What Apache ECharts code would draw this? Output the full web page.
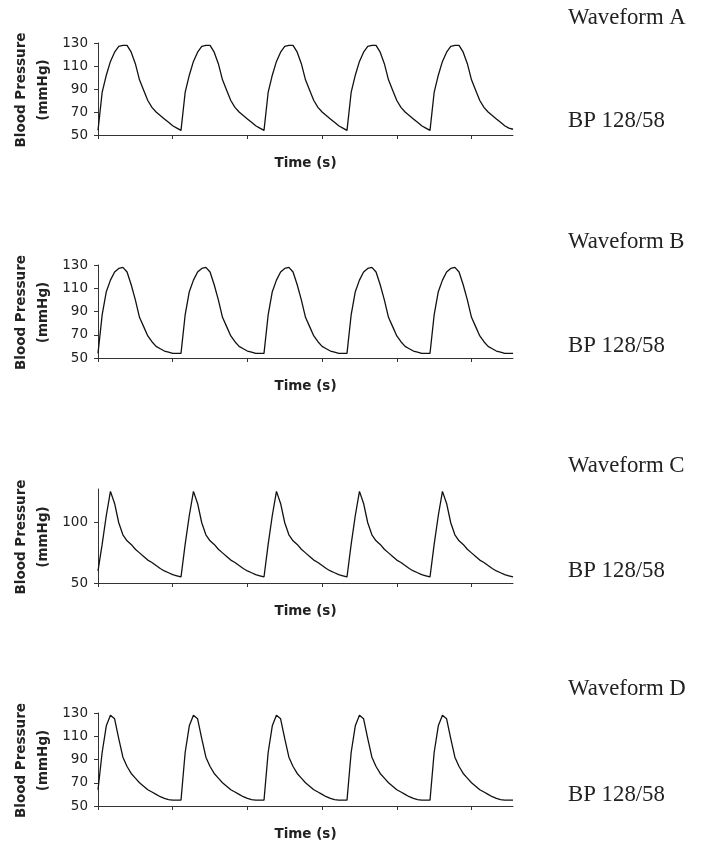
<!DOCTYPE html>
<html><head><meta charset="utf-8">
<script src="https://cdn.jsdelivr.net/npm/echarts@6/dist/echarts.min.js"></script>
<style>html,body{margin:0;padding:0;background:#fff}#c{width:701px;height:842px}</style>
</head><body><div id="c"></div>
<script>
const waveNames = ['Waveform A', 'Waveform B', 'Waveform C', 'Waveform D'];
const bpLabels = ['BP 128/58', 'BP 128/58', 'BP 128/58', 'BP 128/58'];
const xTitle = 'Time (s)';
const yTitle1 = 'Blood Pressure';
const yTitle2 = '(mmHg)';
const xTicks = [0, 18, 36, 54, 72, 90];
const yTicksABD = [50, 70, 90, 110, 130];
const yTicksC = [50, 100];

const waveA = [
  54,87,102,114,122,127,128,128,122,112,98,89,80,74,70,67,64,61,58,56,
  54,87,102,114,122,127,128,128,122,112,98,89,80,74,70,67,64,61,58,56,
  54,87,102,114,122,127,128,128,122,112,98,89,80,74,70,67,64,61,58,56,
  54,87,102,114,122,127,128,128,122,112,98,89,80,74,70,67,64,61,58,56,
  54,87,102,114,122,127,128,128,122,112,98,89,80,74,70,67,64,61,58,56,
  55
];
const waveB = [
  54,87,107,117,124,127,128,124,113,100,85,77,69,64,60,58,56,55,54,54,
  54,87,107,117,124,127,128,124,113,100,85,77,69,64,60,58,56,55,54,54,
  54,87,107,117,124,127,128,124,113,100,85,77,69,64,60,58,56,55,54,54,
  54,87,107,117,124,127,128,124,113,100,85,77,69,64,60,58,56,55,54,54,
  54,87,107,117,124,127,128,124,113,100,85,77,69,64,60,58,56,55,54,54,
  54
];
const waveC = [
  60,82,106,126,116,100,90,85,82,78,75,72,69,67,64.5,62,60,58.5,57,56,
  55,82,106,126,116,100,90,85,82,78,75,72,69,67,64.5,62,60,58.5,57,56,
  55,82,106,126,116,100,90,85,82,78,75,72,69,67,64.5,62,60,58.5,57,56,
  55,82,106,126,116,100,90,85,82,78,75,72,69,67,64.5,62,60,58.5,57,56,
  55,82,106,126,116,100,90,85,82,78,75,72,69,67,64.5,62,60,58.5,57,56,
  55
];
const waveD = [
  64,96,119,128,125,108,92,84,78,74,70,67,64,62,60,58,56.5,55.5,55,55,
  55,96,119,128,125,108,92,84,78,74,70,67,64,62,60,58,56.5,55.5,55,55,
  55,96,119,128,125,108,92,84,78,74,70,67,64,62,60,58,56.5,55.5,55,55,
  55,96,119,128,125,108,92,84,78,74,70,67,64,62,60,58,56.5,55.5,55,55,
  55,96,119,128,125,108,92,84,78,74,70,67,64,62,60,58,56.5,55.5,55,55,
  55
];

const waves = [waveA, waveB, waveC, waveD];
const yMaxes = [130, 130, 128, 130];
const yTickSets = [yTicksABD, yTicksABD, yTicksC, yTicksABD];

const layout = [
  {top: 43, height: 92, title: 18.5, bp: 121},
  {top: 265, height: 93, title: 242, bp: 346},
  {top: 489, height: 94, title: 466, bp: 571},
  {top: 713, height: 93, title: 689, bp: 795.5}
];
const LEFT = 98, WIDTH = 415;
const axisColor = '#333';
const textColor = '#222';

const grid = [], xAxis = [], yAxis = [], series = [], graphic = [];
waves.forEach((w, i) => {
  const L = layout[i];
  grid.push({left: LEFT, top: L.top, width: WIDTH, height: L.height});
  xAxis.push({
    gridIndex: i, type: 'value', min: 0, max: w.length - 1, interval: 18,
    axisLine: {show: true, onZero: false, lineStyle: {color: axisColor, width: 1}},
    axisTick: {show: true, length: 4, customValues: xTicks, lineStyle: {color: axisColor}},
    axisLabel: {show: false},
    splitLine: {show: false}
  });
  yAxis.push({
    gridIndex: i, type: 'value', min: 50, max: yMaxes[i],
    axisLine: {show: true, lineStyle: {color: axisColor, width: 1}},
    axisTick: {show: true, length: 4, customValues: yTickSets[i], lineStyle: {color: axisColor}},
    axisLabel: {show: true, customValues: yTickSets[i], margin: 10, color: textColor,
      fontFamily: 'DejaVu Sans', fontSize: 13.5},
    splitLine: {show: false}
  });
  series.push({
    type: 'line', xAxisIndex: i, yAxisIndex: i, symbol: 'none', showSymbol: false,
    lineStyle: {color: '#111', width: 1.3}, animation: false,
    data: w.map((v, k) => [k, v])
  });
  const cy = L.top + L.height / 2 + 1;
  graphic.push({type: 'text', x: 21, y: cy, rotation: Math.PI / 2,
    style: {text: yTitle1, textAlign: 'center', textVerticalAlign: 'middle',
      font: 'bold 13.5px "DejaVu Sans"', fill: textColor}});
  graphic.push({type: 'text', x: 43.5, y: cy, rotation: Math.PI / 2,
    style: {text: yTitle2, textAlign: 'center', textVerticalAlign: 'middle',
      font: 'bold 13.5px "DejaVu Sans"', fill: textColor}});
  graphic.push({type: 'text', x: LEFT + WIDTH / 2, y: L.top + L.height + 28,
    style: {text: xTitle, textAlign: 'center', textVerticalAlign: 'middle',
      font: 'bold 13.5px "DejaVu Sans"', fill: textColor}});
  graphic.push({type: 'text', x: 568, y: L.title,
    style: {text: waveNames[i], textAlign: 'left', textVerticalAlign: 'middle',
      font: '22.8px "Liberation Serif"', fill: textColor}});
  graphic.push({type: 'text', x: 568, y: L.bp,
    style: {text: bpLabels[i], textAlign: 'left', textVerticalAlign: 'middle',
      font: '22.8px "Liberation Serif"', fill: textColor}});
});

const chart = echarts.init(document.getElementById('c'), null, {renderer: 'canvas'});
chart.setOption({animation: false, backgroundColor: '#fff', grid, xAxis, yAxis, series, graphic});
</script>
</body></html>
